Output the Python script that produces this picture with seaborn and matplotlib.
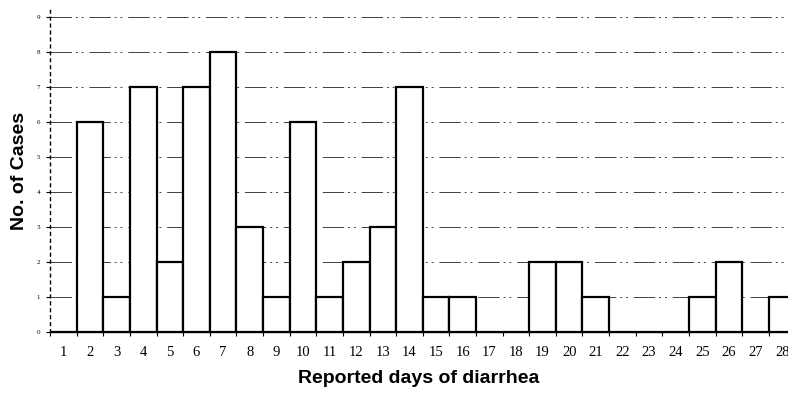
import numpy as np
import pandas as pd
import seaborn as sns
import matplotlib.pyplot as plt

# cases per reported day of diarrhea
days = list(range(1, 29))
cases = [0, 6, 1, 7, 2, 7, 8, 3, 1, 6, 1, 2, 3, 7,
         1, 1, 0, 0, 2, 2, 1, 0, 0, 0, 1, 2, 0, 1]
y_ticks = list(range(0, 10))

df = pd.DataFrame({"day": days, "cases": cases})

sns.set_style("white")
plt.rcParams["text.color"] = "black"
plt.rcParams["axes.labelcolor"] = "black"
plt.rcParams["xtick.color"] = "black"
plt.rcParams["ytick.color"] = "black"

fig = plt.figure(figsize=(7.88, 3.94), dpi=100)
ax = fig.add_axes([0.0635, 0.157, 0.9365, 0.818])

sns.barplot(data=df, x="day", y="cases", order=days, color="white",
            edgecolor="black", linewidth=1.6, width=1.0, saturation=1,
            zorder=3, ax=ax)

# scan-like broken gridlines behind the bars
for yv in y_ticks[1:]:
    ax.axhline(yv, color="0.25", lw=0.7, ls=(0, (22, 4, 2, 4, 2, 6)), zorder=1)

ax.set_xlim(-0.45, 27.22)
ax.set_ylim(0, 9.2)
ax.set_yticks(y_ticks)
ax.set_yticklabels([str(v) for v in y_ticks], fontsize=5, family="Liberation Serif")
ax.set_xticks(range(len(days)))
ax.set_xticklabels([str(d) for d in days], fontsize=10.5, family="Liberation Serif")
ax.set_xticks(np.arange(len(days)) - 0.5, minor=True)
ax.tick_params(axis="x", which="major", length=0, pad=10)
ax.tick_params(axis="x", which="minor", length=3, width=0.8, color="black", direction="out")
ax.tick_params(axis="y", length=3, width=0.8, color="black", pad=4)
ax.xaxis.set_ticks_position("bottom")
ax.yaxis.set_ticks_position("left")

for s in ["top", "right"]:
    ax.spines[s].set_visible(False)
ax.spines["left"].set_linestyle((0, (2, 3)))
ax.spines["left"].set_linewidth(1.0)
ax.spines["left"].set_color("black")
ax.spines["bottom"].set_linewidth(1.0)
ax.spines["bottom"].set_color("black")

ax.set_xlabel("Reported days of diarrhea", fontsize=14, fontweight="bold",
              family="Liberation Sans", labelpad=8)
ax.set_ylabel("No. of Cases", fontsize=14, fontweight="bold",
              family="Liberation Sans", labelpad=6)

fig.savefig("out.png", dpi=100)
